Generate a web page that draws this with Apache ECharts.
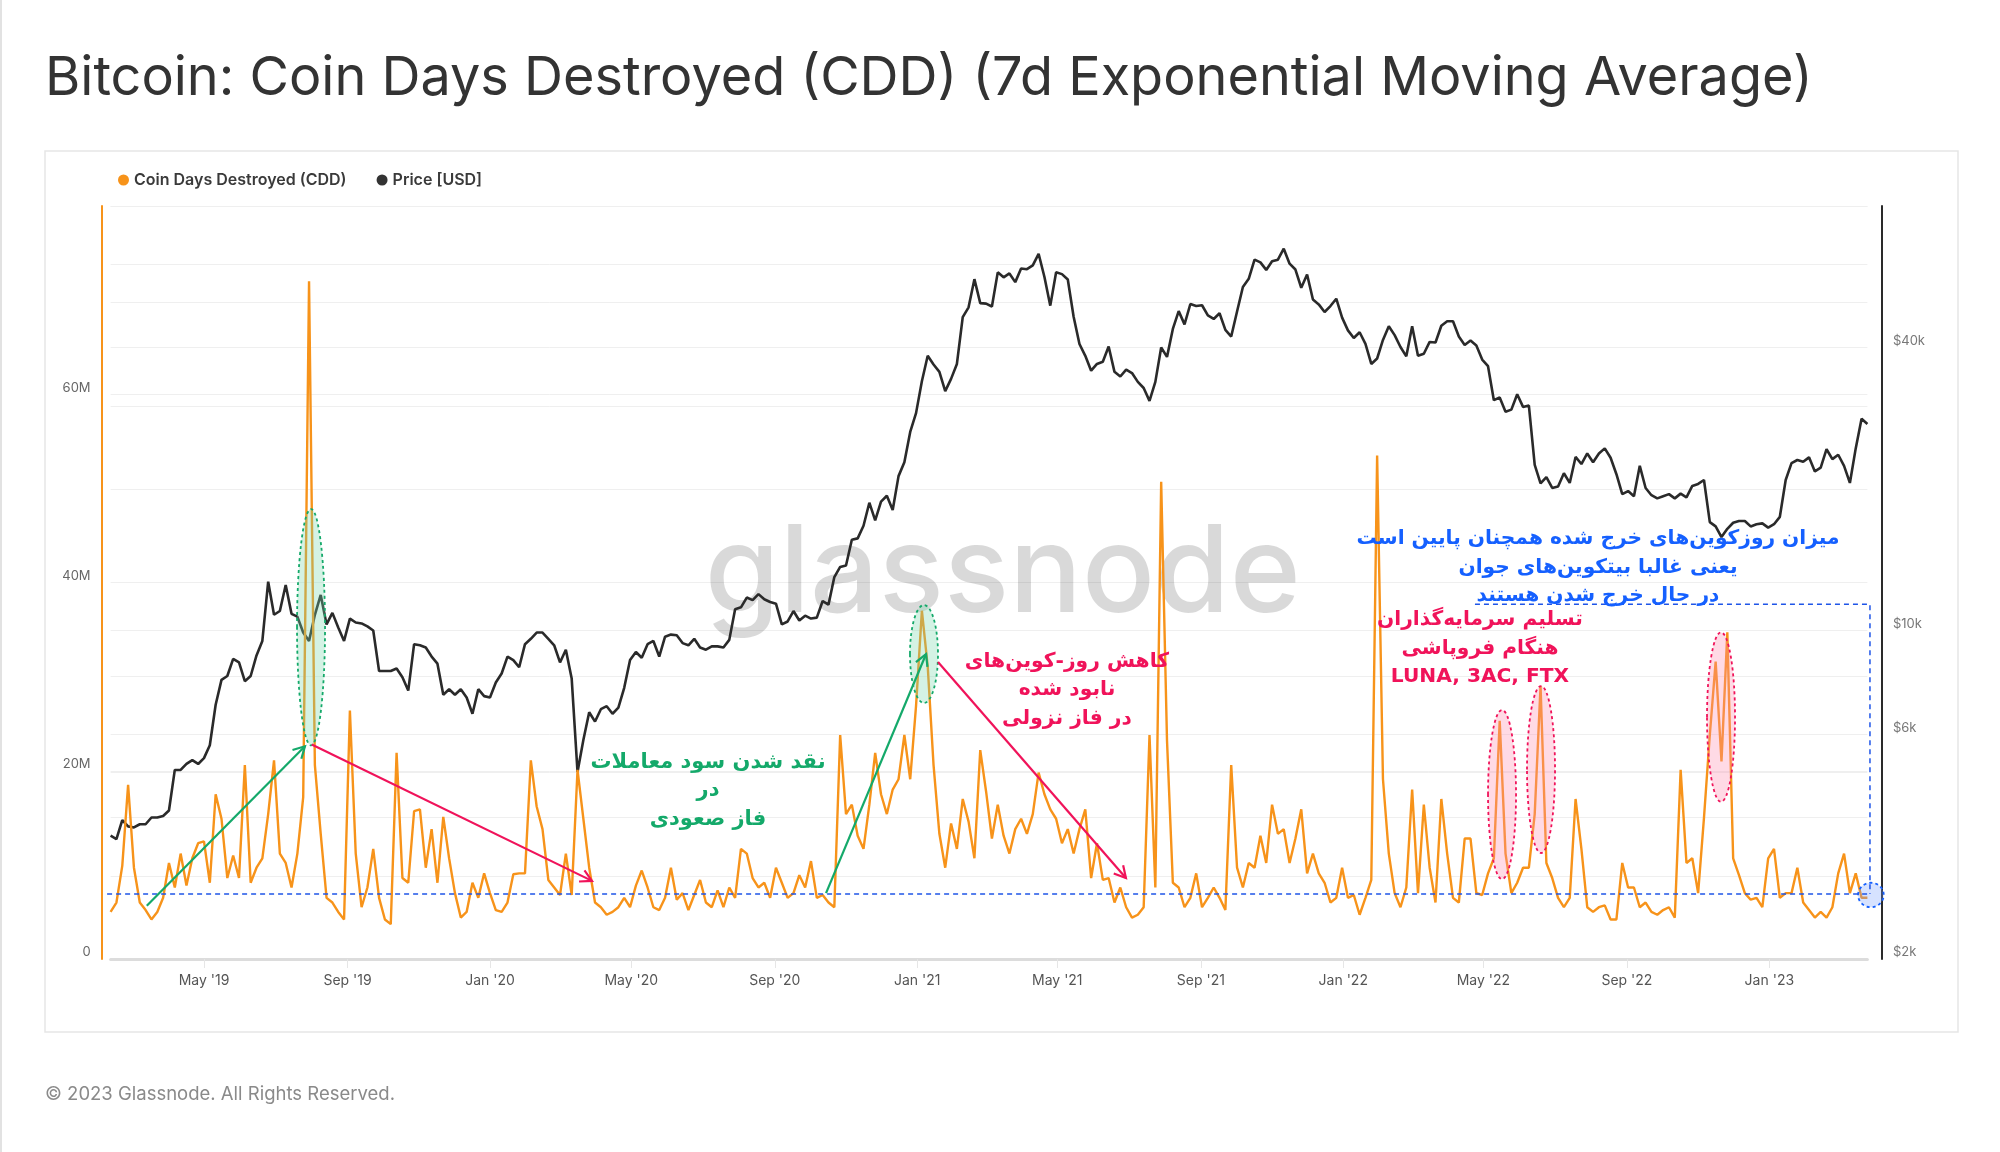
<!DOCTYPE html>
<html><head><meta charset="utf-8">
<script src="https://cdn.jsdelivr.net/npm/echarts@6/dist/echarts.min.js"></script>
<style>html,body{margin:0;padding:0;background:#fff;}#c{width:2000px;height:1152px;}</style>
</head><body><div id="c"></div>
<script>
// ---------------- DATA ----------------
const startDate = '2019-02-10';
const stepDays = 5;
// Coin Days Destroyed, 7d EMA, in millions (one value every 5 days from startDate)
const cddValuesM = [
5.0,6.0,9.9,18.5,9.7,6.0,5.2,4.2,5.0,6.5,
10.2,7.6,11.2,7.8,10.7,12.3,12.5,8.1,17.5,14.9,
8.6,11.0,8.6,20.6,8.1,9.7,10.7,15.4,21.1,11.2,
10.2,7.6,11.2,17.2,72.0,20.6,13.3,6.5,6.0,5.0,
4.2,26.4,11.2,5.5,7.6,11.7,6.5,4.2,3.7,21.9,
8.6,8.1,15.7,15.9,9.7,13.8,8.1,15.1,10.7,7.0,
4.4,5.0,8.1,6.5,9.1,7.0,5.2,5.0,6.0,9.0,
9.1,9.1,21.1,16.2,13.8,8.4,7.6,6.8,11.2,6.8,
20.1,14.9,9.7,6.0,5.5,4.7,5.0,5.5,6.5,5.5,
7.8,9.4,7.6,5.5,5.2,6.5,9.7,6.3,7.0,5.2,
6.8,8.4,6.0,5.5,7.3,5.5,7.6,6.5,11.7,11.2,
8.6,7.6,8.1,6.5,9.7,8.1,6.5,7.0,8.9,7.6,
10.4,6.5,6.8,6.0,5.5,23.8,15.4,16.4,13.1,11.7,
16.4,21.9,17.5,15.4,18.0,19.1,23.8,19.1,26.9,37.0,
31.1,20.6,13.3,9.7,14.4,11.7,17.0,14.6,10.7,22.2,
17.8,12.8,16.4,13.1,11.2,13.8,14.9,13.3,15.4,19.8,
17.5,15.9,14.9,12.3,13.8,11.2,13.8,15.9,8.6,12.3,
8.4,8.6,6.0,7.6,5.5,4.4,4.7,5.5,23.8,7.6,
50.7,23.2,8.1,7.6,5.5,6.5,9.1,5.5,6.5,7.6,
6.5,5.2,20.6,9.7,7.6,10.2,9.7,13.1,10.2,16.4,
13.3,13.8,10.2,12.8,15.9,9.1,11.2,9.1,8.1,6.0,
6.5,9.7,6.5,6.8,4.7,6.5,8.4,53.5,19.1,11.2,
7.0,5.5,7.6,18.0,7.0,16.4,9.7,6.0,17.0,11.2,
6.5,6.0,12.8,12.8,7.0,6.8,9.1,10.7,25.3,11.2,
7.0,8.1,9.7,9.7,15.4,29.0,10.2,8.6,6.5,5.5,
6.5,17.0,11.7,5.5,5.0,5.5,5.7,4.2,4.2,10.2,
7.6,7.6,5.5,6.0,5.0,4.7,5.2,5.5,4.4,20.1,
10.2,10.7,7.0,15.0,23.8,31.6,21.0,34.7,10.7,8.9,
7.0,6.3,6.5,5.5,10.7,11.7,6.5,7.0,7.0,9.7,
6.0,5.2,4.4,5.0,4.4,5.5,9.1,11.2,7.0,9.1,
6.5,6.5
];
// Bitcoin price in USD (same dates)
const priceUSD = [
3660,3600,3950,3830,
3810,3870,3870,4000,4000,4030,
4140,5050,5050,5200,5300,5200,
5350,5700,6950,7850,8000,8700,8550,
7800,8000,8850,9500,12700,10800,
11000,12500,10850,10700,9900,9500,
10800,11900,10300,10900,10150,9500,
10600,10400,10350,10200,10000,8200,
8200,8200,8300,7950,7450,9350,
9300,9200,8800,8500,7300,7500,
7300,7500,7200,6650,7500,7250,
7200,7750,8100,8800,8650,8350,9350,
9600,9900,9900,9600,9300,
8550,9100,7900,5000,5850,6700,6400,
6800,6900,6650,6850,7550,8650,
9000,8750,9350,9500,8800,9700,
9800,9770,9400,9300,9600,9200,
9100,9250,9250,9200,9550,11100,
11200,11750,11600,11950,11650,11500,
11400,10300,10450,11000,10500,10750,
10600,10650,11550,11350,12990,13650,
13750,15600,15700,16700,18700,17150,
18800,19350,18050,21300,22800,26450,29000,
33900,38400,36800,35500,32300,34300,
36900,46400,48700,55900,49700,
49600,48900,57800,56400,57500,55100,58900,
58700,59800,63300,56500,49100,57800,
57300,55800,46500,40700,38400,35700,
36900,37300,40200,35500,34700,35900,
35300,33800,32800,30800,33800,40000,
38200,43800,47800,44800,49500,49000,
49200,46800,46000,47300,43600,42200,
47700,53800,56000,61500,60700,58500,
61000,61500,64900,60300,58600,53600,
57200,50600,49400,47600,49000,50800,46300,
43500,41900,43100,40700,36900,37900,
41500,44400,42500,40100,38300,
44400,38400,38800,41100,41000,44500,45500,
45500,42200,40500,41400,40400,37700,
36500,30900,31300,29200,29500,31800,
29900,30100,22500,20550,21200,20100,
20250,21600,20600,23400,22600,23800,
22800,23800,24400,23300,21500,19500,
19800,19300,22400,20100,19400,19100,
19300,19500,19100,19550,19200,20300,
20500,20900,17000,16650,15800,16450,
16950,17100,17100,16650,16820,16900,16550,
16830,17450,20900,22700,23050,22850,
23350,21800,22200,24300,23150,
23650,22400,20600,24400,28200,27500
];
const xTickDates = ['2019-05-01','2019-09-01','2020-01-01','2020-05-01','2020-09-01','2021-01-01','2021-05-01','2021-09-01','2022-01-01','2022-05-01','2022-09-01','2023-01-01'];
const xTickLabels = ["May '19","Sep '19","Jan '20","May '20","Sep '20","Jan '21","May '21","Sep '21","Jan '22","May '22","Sep '22","Jan '23"];
const priceGridValues = [2000,3000,4000,5000,6000,8000,10000,20000,30000,40000,50000,60000,80000];
const priceLabelValues = [2000,6000,10000,40000];
const priceLabelTexts = ['$2k','$6k','$10k','$40k'];

// ---------------- BUILD ----------------
const DAY = 86400000;
const t0 = Date.parse(startDate + 'T00:00:00Z');
const dates = cddValuesM.map((_, i) => t0 + i * stepDays * DAY);
const cddData = cddValuesM.map((v, i) => [dates[i], v * 1e6]);
const priceData = priceUSD.map((v, i) => [dates[i], v]);
const xTicks = xTickDates.map(d => Date.parse(d + 'T00:00:00Z'));

const ORANGE = '#f7931a', DARK = '#2a2a2a';
const GREEN = '#14a96a', RED = '#f0135a', BLUE = '#1560ff';
const FONT = 'Inter, "Noto Sans", sans-serif';
const FA = '"DejaVu Sans", sans-serif';

const chart = echarts.init(document.getElementById('c'), null, {renderer: 'canvas'});
const option = {
  animation: false,
  backgroundColor: '#ffffff',
  title: {
    text: 'Bitcoin: Coin Days Destroyed (CDD) (7d Exponential Moving Average)',
    left: 40, top: 47,
    textStyle: {fontSize: 54, fontWeight: 400, color: '#333', fontFamily: FONT}
  },
  legend: {
    left: 113, top: 167, icon: 'circle', itemWidth: 11, itemHeight: 11, itemGap: 30,
    textStyle: {fontSize: 16, fontWeight: 600, color: '#3a3a3a', fontFamily: FONT},
    data: ['Coin Days Destroyed (CDD)', 'Price [USD]']
  },
  grid: {left: 110.6, right: 132.6, top: 206, bottom: 193, containLabel: false, outerBoundsMode: 'none'},
  xAxis: {
    type: 'value', min: dates[0], max: dates[dates.length - 1], scale: true,
    axisLine: {show: true, onZero: false, lineStyle: {color: '#dcdcdc', width: 3}},
    axisTick: {show: true, customValues: xTicks, length: 9, lineStyle: {color: '#e6e6e6', width: 1}},
    axisLabel: {
      customValues: xTicks, color: '#555', fontSize: 14, margin: 15, fontFamily: FONT,
      showMinLabel: true, showMaxLabel: true,
      formatter: v => { const k = xTicks.indexOf(v); return k >= 0 ? xTickLabels[k] : ''; }
    },
    splitLine: {show: false}
  },
  yAxis: [
    {
      type: 'value', min: 0, max: 80e6, interval: 20e6, position: 'left', offset: 9,
      axisLine: {show: true, lineStyle: {color: ORANGE, width: 2}},
      axisTick: {show: false},
      axisLabel: {
        color: '#666', fontSize: 13, margin: 11, fontFamily: FONT, showMaxLabel: false,
        verticalAlign: 'bottom',
        formatter: v => v === 0 ? '0' : (v / 1e6) + 'M'
      },
      splitLine: {show: true, lineStyle: {color: '#efefef', width: 1}}
    },
    {
      type: 'log', logBase: 10, min: 2000, max: 80000, position: 'right', offset: 14.5,
      axisLine: {show: true, lineStyle: {color: DARK, width: 2}},
      axisTick: {show: false, customValues: priceGridValues},
      axisLabel: {
        customValues: priceLabelValues, color: '#777', fontSize: 13, margin: 11, fontFamily: FONT,
        verticalAlign: 'bottom',
        formatter: v => { const k = priceLabelValues.indexOf(Math.round(v)); return k >= 0 ? priceLabelTexts[k] : ''; }
      },
      splitLine: {show: true, lineStyle: {color: '#efefef', width: 1}}
    }
  ],
  series: [
    {
      name: 'Coin Days Destroyed (CDD)', type: 'line', yAxisIndex: 0, data: cddData,
      showSymbol: false, symbol: 'none', lineStyle: {color: ORANGE, width: 2.4},
      itemStyle: {color: ORANGE}, z: 3
    },
    {
      name: 'Price [USD]', type: 'line', yAxisIndex: 1, data: priceData,
      showSymbol: false, symbol: 'none', lineStyle: {color: DARK, width: 2.6},
      itemStyle: {color: '#333'}, z: 2
    }
  ]
};
chart.setOption(option);

// ---------------- ANNOTATIONS (placed in data space) ----------------
function P(d, m) { return chart.convertToPixel({xAxisIndex: 0, yAxisIndex: 0}, [t0 + d * DAY, m * 1e6]); }
const annoArrows = [
  {from: [31, 5.65], to: [166.5, 22.6], color: GREEN},
  {from: [172.3, 22.8], to: [412.4, 8.3], color: RED},
  {from: [612.9, 7.0], to: [698.6, 32.4], color: GREEN},
  {from: [708.8, 31.55], to: [869.8, 8.6], color: RED}
];
const annoEllipses = [
  {d: [159.7, 183.7], m: [22.7, 47.8], stroke: GREEN, fill: 'rgba(120,215,170,0.32)'},
  {d: [684.8, 708.8], m: [27.2, 37.6], stroke: GREEN, fill: 'rgba(120,215,170,0.32)'},
  {d: [1180, 1204], m: [8.5, 26.45], stroke: RED, fill: 'rgba(255,140,175,0.32)'},
  {d: [1213.4, 1237.4], m: [11.26, 29.0], stroke: RED, fill: 'rgba(255,140,175,0.32)'},
  {d: [1367.6, 1391.6], m: [16.7, 34.7], stroke: RED, fill: 'rgba(255,140,175,0.32)'},
  {d: [1497, 1519], m: [5.5, 8.1], stroke: BLUE, fill: 'rgba(120,160,255,0.3)'}
];
const annoTexts = [
  {at: [511.8, 17.85], color: GREEN, size: 21, text: 'نقد شدن سود معاملات\nدر\nفاز صعودی'},
  {at: [819.3, 28.6], color: RED, size: 20.3, text: 'کاهش روز-کوین‌های\nنابود شده\nدر فاز نزولی'},
  {at: [1274.2, 41.6], color: BLUE, size: 20.2, text: 'میزان روزکوین‌های خرج شده همچنان پایین است\nیعنی غالبا بیتکوین‌های جوان\nدر حال خرج شدن هستند'},
  {at: [1173.1, 33.0], color: RED, size: 20.2, text: 'تسلیم سرمایه‌گذاران\nهنگام فروپاشی\nLUNA, 3AC, FTX'}
];
const annoDashed = [
  [[-3, 6.9], [1507.2, 6.9]],
  [[1168.8, 37.7], [1507.2, 37.7], [1507.2, 6.9]]
];

const g = [];
g.push({type: 'rect', shape: {x: 45, y: 151, width: 1913, height: 881}, style: {fill: 'none', stroke: '#e6e6e6', lineWidth: 1.5}, z: 0, silent: true});
g.push({type: 'line', shape: {x1: 1, y1: 0, x2: 1, y2: 1152}, style: {stroke: '#e2e2e2', lineWidth: 2}, z: 0, silent: true});
const wm = P(766, 40.7);
g.push({type: 'text', x: wm[0] - 2, y: wm[1], z: 1, silent: true,
  style: {text: 'glassnode', fill: 'rgba(0,0,0,0.15)', fontSize: 121, fontWeight: 500, fontFamily: FONT, align: 'center', verticalAlign: 'middle'}});
g.push({type: 'text', x: 45, y: 1094, z: 1, silent: true,
  style: {text: '© 2023 Glassnode. All Rights Reserved.', fill: '#8a8a8a', fontSize: 18.5, fontFamily: FONT, align: 'left', verticalAlign: 'middle'}});

annoEllipses.forEach(e => {
  const a = P(e.d[0], e.m[1]), b = P(e.d[1], e.m[0]);
  g.push({type: 'ellipse', z: 50, silent: true,
    shape: {cx: (a[0] + b[0]) / 2, cy: (a[1] + b[1]) / 2, rx: Math.abs(b[0] - a[0]) / 2, ry: Math.abs(b[1] - a[1]) / 2},
    style: {fill: e.fill, stroke: e.stroke, lineWidth: 1.8, lineDash: [3, 3]}});
});
annoDashed.forEach(pts => {
  g.push({type: 'polyline', z: 50, silent: true, shape: {points: pts.map(p => P(p[0], p[1]))},
    style: {fill: 'none', stroke: '#1f55e8', lineWidth: 1.5, lineDash: [5, 4]}});
});
annoArrows.forEach(ar => {
  const a = P(ar.from[0], ar.from[1]), b = P(ar.to[0], ar.to[1]);
  const ang = Math.atan2(b[1] - a[1], b[0] - a[0]);
  const L = 13, sp = 0.5;
  const h1 = [b[0] - L * Math.cos(ang - sp), b[1] - L * Math.sin(ang - sp)];
  const h2 = [b[0] - L * Math.cos(ang + sp), b[1] - L * Math.sin(ang + sp)];
  g.push({type: 'line', z: 60, silent: true, shape: {x1: a[0], y1: a[1], x2: b[0], y2: b[1]}, style: {stroke: ar.color, lineWidth: 2.2}});
  g.push({type: 'polyline', z: 60, silent: true, shape: {points: [h1, b, h2]}, style: {fill: 'none', stroke: ar.color, lineWidth: 2.2}});
});
annoTexts.forEach(t => {
  const p = P(t.at[0], t.at[1]);
  g.push({type: 'text', x: p[0], y: p[1], z: 70, silent: true,
    style: {text: t.text, fill: t.color, fontSize: t.size, fontWeight: 'bold', fontFamily: FA, lineHeight: 28.5, align: 'center', verticalAlign: 'middle'}});
});
chart.setOption({graphic: {elements: g}});
</script>
</body></html>
